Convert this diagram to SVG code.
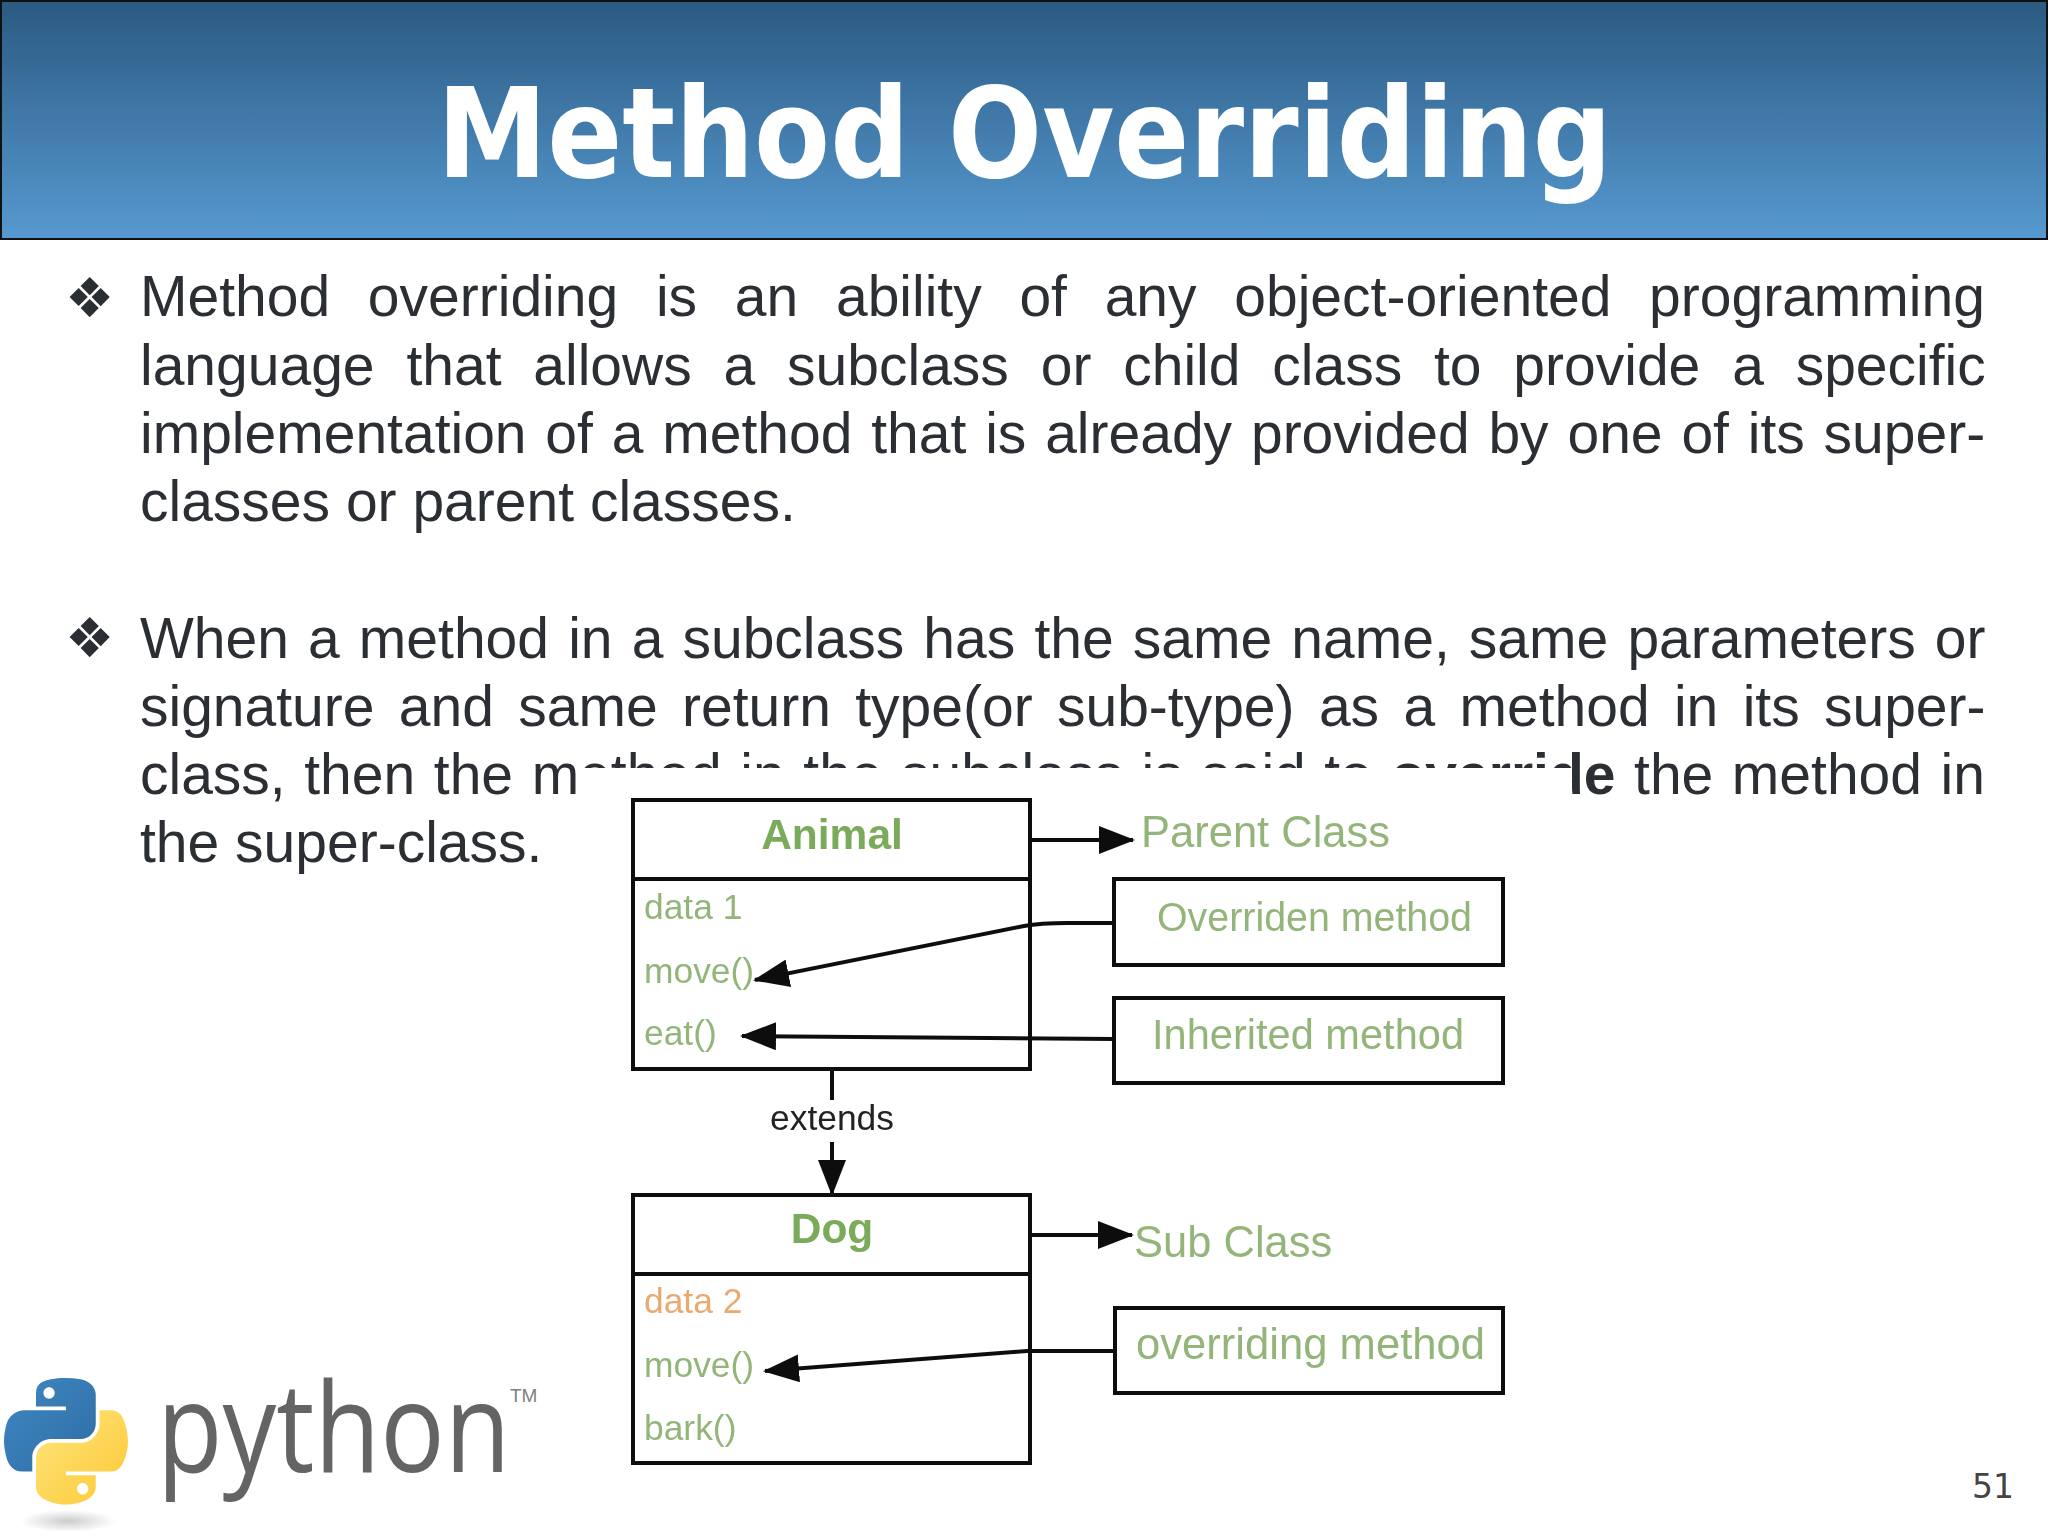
<svg xmlns="http://www.w3.org/2000/svg" width="2048" height="1536" viewBox="0 0 2048 1536">
<style>
.body{font-family:"Liberation Sans",Arial,sans-serif;font-size:57px;fill:#2b2f33}
.bul{font-family:"DejaVu Sans",sans-serif;font-size:55px;fill:#2b2f33}
.dia{font-family:"Liberation Sans",Arial,sans-serif;fill:#94b57a}
.big{font-size:43.5px}
.mem{font-size:35.4px}
.head{font-size:42.5px;font-weight:bold;fill:#7aab5a;text-anchor:middle}
.box{fill:#fff;stroke:#111;stroke-width:4}
.ln{fill:none;stroke:#111;stroke-width:4}
.soft{filter:url(#soft)}
</style>
<defs>
<linearGradient id="hdr" x1="0" y1="0" x2="0" y2="1"><stop offset="0" stop-color="#2b5a82"/><stop offset="1" stop-color="#5699d0"/></linearGradient>
<linearGradient id="pb" x1="0" y1="0" x2="1" y2="1"><stop offset="0" stop-color="#3f87c2"/><stop offset="1" stop-color="#2f6da6"/></linearGradient>
<linearGradient id="py" x1="0" y1="0" x2="1" y2="1"><stop offset="0" stop-color="#fee680"/><stop offset="1" stop-color="#fdc832"/></linearGradient>
<radialGradient id="sh"><stop offset="0" stop-color="#bbb" stop-opacity=".75"/><stop offset="1" stop-color="#bbb" stop-opacity="0"/></radialGradient>
<filter id="soft" x="-5%" y="-5%" width="110%" height="110%"><feGaussianBlur stdDeviation=".6"/></filter>
<marker id="ah" markerUnits="userSpaceOnUse" markerWidth="36" markerHeight="28" viewBox="0 0 36 28" refX="34" refY="14" orient="auto"><path d="M0 0L36 14L0 28Z" fill="#111"/></marker>
</defs>
<rect width="2048" height="1536" fill="#fff"/>
<g id="header">
<rect x="1" y="1" width="2046" height="238" fill="url(#hdr)" stroke="#111" stroke-width="2"/>
<text x="437" y="177" font-family="'DejaVu Sans',sans-serif" font-weight="bold" font-size="125" fill="#fff" textLength="1175" lengthAdjust="spacingAndGlyphs">Method Overriding</text>
</g>
<g id="bullet-text">
<text class="bul" x="65" y="317">❖</text>
<text class="body" x="140" y="316" style="word-spacing:21.9px">Method overriding is an ability of any object-oriented programming</text>
<text class="body" x="140" y="385" style="word-spacing:16px">language that allows a subclass or child class to provide a specific</text>
<text class="body" x="140" y="453" style="word-spacing:3px">implementation of a method that is already provided by one of its super-</text>
<text class="body" x="140" y="521">classes or parent classes.</text>
<text class="bul" x="65" y="657">❖</text>
<text class="body" x="140" y="658" style="word-spacing:3.3px">When a method in a subclass has the same name, same parameters or</text>
<text class="body" x="140" y="726" style="word-spacing:8.5px">signature and same return type(or sub-type) as a method in its super-</text>
<text class="body" x="140" y="794" style="word-spacing:2.75px">class, then the method in the subclass is said to <tspan font-weight="bold">override</tspan> the method in</text>
<text class="body" x="140" y="862">the super-class.</text>
</g>
<rect id="diagram-backing" x="580" y="768" width="992" height="40" fill="#fff"/>
<g class="soft">
<g id="animal">
<rect class="box" x="633" y="800" width="397" height="269"/>
<line class="ln" x1="633" y1="879" x2="1030" y2="879"/>
<text class="dia head" x="832" y="849">Animal</text>
<text class="dia mem" x="644" y="919">data 1</text>
<text class="dia mem" x="644" y="983">move()</text>
<text class="dia mem" x="644" y="1045">eat()</text>
</g>
<g id="parent-class"><text class="dia big" x="1141" y="847">Parent Class</text></g>
<g id="overriden-method">
<rect class="box" x="1114" y="879" width="389" height="86"/>
<text class="dia" x="1157" y="931" font-size="40" textLength="315" lengthAdjust="spacingAndGlyphs">Overriden method</text>
</g>
<g id="inherited-method">
<rect class="box" x="1114" y="998" width="389" height="85"/>
<text class="dia" x="1152" y="1049" font-size="41.6" textLength="312" lengthAdjust="spacingAndGlyphs">Inherited method</text>
</g>
<g id="dog">
<rect class="box" x="633" y="1195" width="397" height="268"/>
<line class="ln" x1="633" y1="1274" x2="1030" y2="1274"/>
<text class="dia head" x="832" y="1243">Dog</text>
<text class="dia mem" x="644" y="1313" style="fill:#e9aa70">data 2</text>
<text class="dia mem" x="644" y="1377">move()</text>
<text class="dia mem" x="644" y="1440">bark()</text>
</g>
<g id="sub-class"><text class="dia big" x="1134" y="1257">Sub Class</text></g>
<g id="overriding-method">
<rect class="box" x="1115" y="1308" width="388" height="85"/>
<text class="dia big" x="1136" y="1359" textLength="349" lengthAdjust="spacingAndGlyphs">overriding method</text>
</g>
<g id="connectors">
<path class="ln" d="M1030 840H1133" marker-end="url(#ah)"/>
<path class="ln" d="M1114 923H1067Q1040 923 1024 926L755 980" marker-end="url(#ah)"/>
<path class="ln" d="M1114 1039L742 1036" marker-end="url(#ah)"/>
<path class="ln" d="M832 1069V1100"/>
<path class="ln" d="M832 1142V1194" marker-end="url(#ah)"/>
<path class="ln" d="M1030 1235H1132" marker-end="url(#ah)"/>
<path class="ln" d="M1115 1351H1027L765 1371" marker-end="url(#ah)"/>
<text class="dia mem" x="832" y="1130" text-anchor="middle" style="fill:#222">extends</text>
</g>
</g>
<g id="python-logo">
<ellipse cx="68" cy="1521" rx="48" ry="11" fill="url(#sh)"/>
<g transform="translate(4 1378) scale(1.115 1.125)">
<path fill="url(#pb)" d="M54.918785.00091927C50.335132.02221727 45.957846.41313697 42.106285 1.0946693 30.760069 3.0991731 28.700036 7.2947714 28.700035 15.032169v10.21875h26.8125v3.40625h-26.8125-10.0625c-7.792459 0-14.6157588 4.683717-16.7499998 13.59375-2.46181998 10.212966-2.57101508 16.586023 0 27.25 1.9059283 7.937852 6.4575432 13.593748 14.2499998 13.59375h9.21875v-12.25c0-8.849902 7.657144-16.656248 16.75-16.65625h26.78125c7.454951 0 13.406253-6.138164 13.40625-13.625v-25.53125c0-7.2663386-6.12998-12.7247771-13.40625-13.9374997C64.281548.32794397 59.502438-.02037903 54.918785.00091927zm-14.5 8.21875c2.769547 0 5.03125 2.2986456 5.03125 5.1249996-.000002 2.816336-2.261703 5.09375-5.03125 5.09375-2.779476-.000001-5.03125-2.277415-5.03125-5.09375-.000001-2.826353 2.251774-5.1249996 5.03125-5.1249996z"/>
<path fill="url(#py)" d="M85.637535 28.657169v11.90625c0 9.230755-7.825895 16.999999-16.75 17h-26.78125c-7.335833 0-13.406249 6.278483-13.40625 13.625v25.531247c0 7.266344 6.318588 11.540324 13.40625 13.625004 8.487331 2.49561 16.626237 2.94663 26.78125 0 6.750155-1.95439 13.406253-5.88761 13.40625-13.625004V86.500919h-26.78125v-3.40625h26.78125 13.406254c7.792461 0 10.696251-5.435408 13.406241-13.59375 2.79933-8.398886 2.74622-16.475776 0-27.25-1.92578-7.757441-5.60387-13.59375-13.406241-13.59375zm-15.0625 64.65625c2.779478.000003 5.03125 2.277417 5.03125 5.093747-.000002 2.826354-2.251775 5.125004-5.03125 5.125004-2.76955 0-5.03125-2.29865-5.03125-5.125004.000002-2.81633 2.261697-5.093747 5.03125-5.093747z"/>
</g>
<text transform="translate(157 1472) scale(.865 1)" font-family="'Open Sans',sans-serif" font-size="124" fill="#646464">python</text>
<text x="510" y="1402" font-family="'Liberation Sans',sans-serif" font-size="19" fill="#808080">TM</text>
</g>
<text id="page-number" x="1972" y="1498" font-family="'DejaVu Sans',sans-serif" font-size="33" fill="#444">51</text>
</svg>
